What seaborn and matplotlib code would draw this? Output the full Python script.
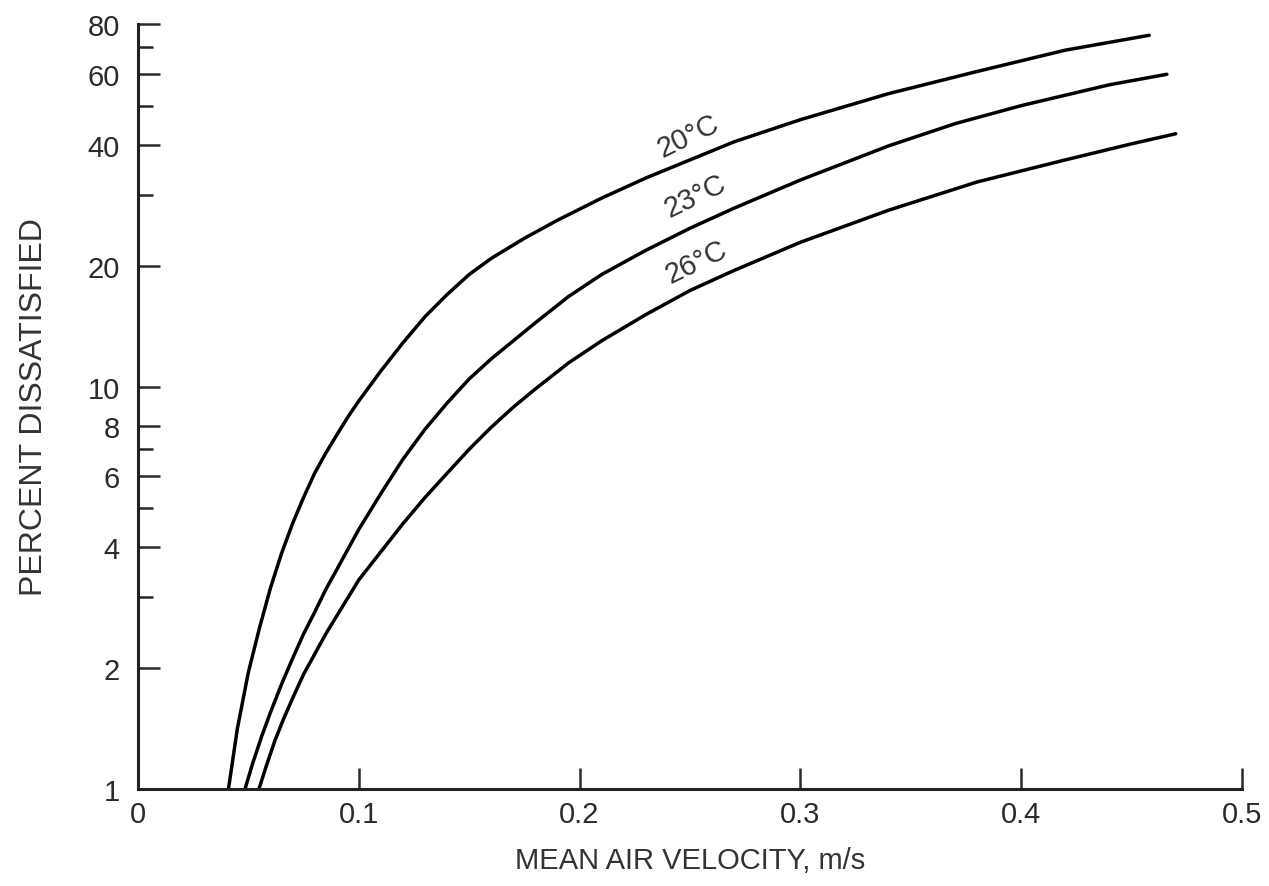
import matplotlib
matplotlib.use('Agg')
import matplotlib.pyplot as plt
import seaborn as sns
import pandas as pd
from matplotlib.ticker import FixedLocator, NullFormatter

# Curvas (velocidad media del aire en m/s, porcentaje de insatisfechos)
v_20 = [0.041, 0.045, 0.050, 0.055, 0.060, 0.065, 0.070, 0.075, 0.080, 0.085, 0.090, 0.095,
        0.100, 0.110, 0.120, 0.130, 0.140, 0.150, 0.160, 0.175, 0.190, 0.210, 0.230, 0.250,
        0.270, 0.300, 0.340, 0.380, 0.420, 0.458]
pd_20 = [1.0, 1.41, 1.95, 2.51, 3.16, 3.85, 4.57, 5.31, 6.10, 6.84, 7.59, 8.41,
         9.23, 10.96, 12.88, 14.96, 16.98, 19.05, 20.89, 23.44, 26.0, 29.51, 33.11, 36.73,
         40.74, 46.24, 53.7, 60.95, 68.87, 75.0]

v_23 = [0.0485, 0.052, 0.056, 0.060, 0.065, 0.070, 0.075, 0.080, 0.085, 0.090, 0.095,
        0.100, 0.110, 0.120, 0.130, 0.140, 0.150, 0.160, 0.170, 0.180, 0.195, 0.210,
        0.230, 0.250, 0.270, 0.300, 0.340, 0.370, 0.400, 0.440, 0.466]
pd_23 = [1.0, 1.16, 1.35, 1.55, 1.82, 2.11, 2.43, 2.75, 3.13, 3.51, 3.94,
         4.42, 5.43, 6.61, 7.85, 9.12, 10.47, 11.75, 13.03, 14.45, 16.79, 19.05,
         21.88, 24.83, 27.86, 32.73, 39.81, 45.19, 50.12, 56.49, 59.98]

v_26 = [0.0548, 0.058, 0.062, 0.066, 0.070, 0.075, 0.080, 0.085, 0.090, 0.095, 0.100,
        0.110, 0.120, 0.130, 0.140, 0.150, 0.160, 0.170, 0.180, 0.195, 0.210, 0.230,
        0.250, 0.270, 0.300, 0.340, 0.380, 0.420, 0.450, 0.470]
pd_26 = [1.0, 1.135, 1.318, 1.496, 1.679, 1.928, 2.163, 2.427, 2.692, 2.985, 3.311,
         3.89, 4.57, 5.31, 6.10, 7.0, 7.94, 8.91, 9.89, 11.48, 13.03, 15.14,
         17.38, 19.50, 22.91, 27.54, 32.36, 36.73, 40.27, 42.66]

etiquetas = ['20°C', '23°C', '26°C']
y_ticks = [1, 2, 4, 6, 8, 10, 20, 40, 60, 80]
y_minor = [3, 5, 7, 30, 50, 70]
x_ticks = [0, 0.1, 0.2, 0.3, 0.4, 0.5]
x_labels = ['0', '0.1', '0.2', '0.3', '0.4', '0.5']

# Tabla larga para seaborn
df = pd.concat([
    pd.DataFrame({'v': v_20, 'pd': pd_20, 'temp': etiquetas[0]}),
    pd.DataFrame({'v': v_23, 'pd': pd_23, 'temp': etiquetas[1]}),
    pd.DataFrame({'v': v_26, 'pd': pd_26, 'temp': etiquetas[2]}),
])

sns.set_style('ticks')
plt.rcParams['font.family'] = ['Liberation Sans', 'DejaVu Sans']

fig = plt.figure(figsize=(12.69, 8.87), dpi=100)
ax = fig.add_axes([0.1087, 0.1094, 0.87, 0.8624])

sns.lineplot(data=df, x='v', y='pd', hue='temp', palette=['black'] * 3,
             linewidth=2.5, legend=False, sort=False, ax=ax)

ax.set_yscale('log')
ax.set_xlim(0, 0.5)
ax.set_ylim(1, 80)

ax.yaxis.set_major_locator(FixedLocator(y_ticks))
ax.set_yticklabels([str(t) for t in y_ticks])
ax.yaxis.set_minor_locator(FixedLocator(y_minor))
ax.yaxis.set_minor_formatter(NullFormatter())
ax.set_xticks(x_ticks)
ax.set_xticklabels(x_labels)

ax.tick_params(axis='y', which='major', direction='in', length=16, width=1.8,
               labelsize=21, pad=13, colors='#2b2b2b')
ax.tick_params(axis='y', which='minor', direction='in', length=11, width=1.8)
ax.tick_params(axis='x', direction='in', length=15, width=1.8, labelsize=21, pad=8,
               colors='#2b2b2b')

for s in ['top', 'right']:
    ax.spines[s].set_visible(False)
for s in ['left', 'bottom']:
    ax.spines[s].set_linewidth(2.2)
    ax.spines[s].set_color('#222222')

ax.set_xlabel('MEAN AIR VELOCITY, m/s', fontsize=21, color='#333333', labelpad=13)
ax.set_ylabel('PERCENT DISSATISFIED', fontsize=23, color='#333333', labelpad=28)

# Etiquetas sobre las curvas
pos_x = [0.249, 0.2525, 0.253]
pos_y = [42.2, 29.9, 20.5]
for t, x, y in zip(etiquetas, pos_x, pos_y):
    ax.text(x, y, t, rotation=26, fontsize=21, color='#333333',
            ha='center', va='center', rotation_mode='anchor')

plt.savefig('out.png', dpi=100)
